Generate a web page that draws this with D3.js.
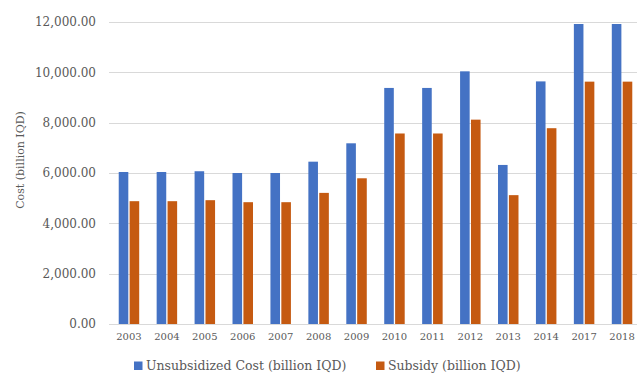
<!DOCTYPE html>
<html>
<head>
<meta charset="utf-8">
<script src="https://cdn.jsdelivr.net/npm/d3@7"></script>
<style>
  html, body { margin: 0; padding: 0; background: #fff; }
  svg { display: block; font-family: "DejaVu Serif", "Liberation Serif", serif; }
</style>
</head>
<body>
<svg id="chart" width="637" height="374"></svg>
<script>
// Fuel cost by year, billion IQD
const years = ["2003","2004","2005","2006","2007","2008","2009","2010","2011","2012","2013","2014","2017","2018"];
const unsubsidizedCost = [6040, 6040, 6070, 6000, 6000, 6450, 7180, 9380, 9380, 10040, 6320, 9640, 11920, 11920];
const subsidy = [4880, 4880, 4920, 4840, 4840, 5210, 5790, 7570, 7570, 8120, 5120, 7780, 9630, 9630];
const seriesNames = ["Unsubsidized Cost (billion IQD)", "Subsidy (billion IQD)"];
const seriesColors = ["#4472C4", "#C55A11"];
const yTicks = [0, 2000, 4000, 6000, 8000, 10000, 12000];

const rows = years.map((y, i) => ({ year: y, values: [unsubsidizedCost[i], subsidy[i]] }));

const svg = d3.select("#chart");
const plot = { left: 110, right: 641, top: 22, bottom: 324 };

const y = d3.scaleLinear().domain([0, 12000]).range([plot.bottom, plot.top]);
const x0 = d3.scaleBand().domain(years).range([plot.left, plot.right])
  .paddingInner(0.46).paddingOuter(0.23);
const x1 = d3.scaleBand().domain([0, 1]).range([0, x0.bandwidth()]).paddingInner(0.12);

// horizontal gridlines
svg.append("g")
  .selectAll("line")
  .data(yTicks.filter(d => d > 0))
  .join("line")
  .attr("x1", plot.left - 1).attr("x2", 637)
  .attr("y1", d => Math.round(y(d)) + 0.5).attr("y2", d => Math.round(y(d)) + 0.5)
  .attr("stroke", "#d9d9d9").attr("stroke-width", 1);

// y axis labels
const yAxis = d3.axisLeft(y).tickValues(yTicks).tickSize(0).tickPadding(14)
  .tickFormat(d3.format(",.2f"));
const gy = svg.append("g").attr("transform", `translate(${plot.left},0)`).call(yAxis);
gy.select(".domain").remove();
gy.selectAll("text").attr("fill", "#595959").attr("font-size", "12px")
  .attr("font-family", "DejaVu Serif, serif");

// bars
const groups = svg.append("g").selectAll("g")
  .data(rows).join("g")
  .attr("transform", d => `translate(${x0(d.year)},0)`);
groups.selectAll("rect")
  .data(d => d.values.map((v, k) => ({ k, v })))
  .join("rect")
  .attr("x", d => x1(d.k))
  .attr("width", x1.bandwidth())
  .attr("y", d => y(d.v))
  .attr("height", d => y(0) - y(d.v))
  .attr("fill", d => seriesColors[d.k]);

// x axis baseline and labels
const xAxis = d3.axisBottom(x0).tickSize(0).tickPadding(9);
const gx = svg.append("g").attr("transform", `translate(0,${plot.bottom})`).call(xAxis);
gx.select(".domain").attr("d", `M${plot.left - 1},0.5H637`).attr("stroke", "#d9d9d9");
gx.selectAll("text").attr("fill", "#595959").attr("font-size", "10px")
  .attr("font-family", "DejaVu Serif, serif");

// y axis title
svg.append("text")
  .attr("transform", "translate(24,160) rotate(-90)")
  .attr("text-anchor", "middle")
  .attr("fill", "#595959")
  .attr("font-size", "11px")
  .text("Cost (billion IQD)");

// legend
const legendX = [134, 376];
const legend = svg.append("g").selectAll("g")
  .data(seriesNames).join("g")
  .attr("transform", (d, i) => `translate(${legendX[i]},366)`);
legend.append("rect")
  .attr("x", 0).attr("y", -4.5).attr("width", 8.5).attr("height", 8.5)
  .attr("fill", (d, i) => seriesColors[i]);
legend.append("text")
  .attr("x", 12).attr("y", 0).attr("dy", "0.35em")
  .attr("fill", "#595959").attr("font-size", "12.5px")
  .text(d => d);
</script>
</body>
</html>
